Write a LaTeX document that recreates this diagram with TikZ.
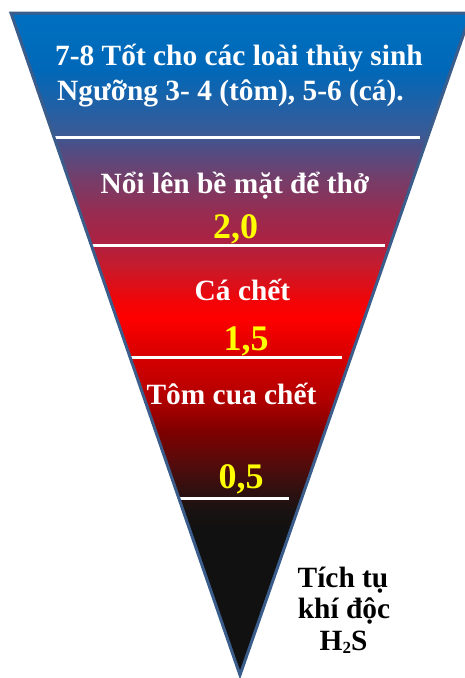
\documentclass[tikz,border=0pt]{standalone}
\usepackage{fontspec}
\setmainfont{Liberation Serif}
\definecolor{edgeblue}{RGB}{59,93,140}
\definecolor{txtyellow}{HTML}{FFFF00}
\definecolor{g0}{HTML}{0070C0}
\definecolor{g1}{HTML}{0068B8}
\definecolor{g2}{HTML}{3C5A96}
\definecolor{g3}{HTML}{4A4F88}
\definecolor{g4}{HTML}{70406D}
\definecolor{g5}{HTML}{952D52}
\definecolor{g6}{HTML}{B02040}
\definecolor{g7}{HTML}{C81A2A}
\definecolor{g8}{HTML}{F00508}
\definecolor{g9}{HTML}{FF0000}
\definecolor{g10}{HTML}{E60000}
\definecolor{g11}{HTML}{B00000}
\definecolor{g12}{HTML}{800000}
\definecolor{g13}{HTML}{5A0A0A}
\definecolor{g14}{HTML}{301010}
\definecolor{g15}{HTML}{1A1212}
\definecolor{g16}{HTML}{111111}
\begin{document}
\begin{tikzpicture}[x=1pt,y=-1pt,
  wtxt/.style={text=white,font=\bfseries\fontsize{29.4}{31}\selectfont,inner sep=0pt,anchor=base},
  ytxt/.style={text=txtyellow,font=\bfseries\fontsize{36}{38}\selectfont,inner sep=0pt,anchor=base},
  btxt/.style={text=black,font=\bfseries\fontsize{29.4}{31}\selectfont,inner sep=0pt,anchor=base},
  levelline/.style={draw=white,line width=3pt},
  funnel/.style={draw=edgeblue,line width=3pt,line join=miter}]
\useasboundingbox (0,0) rectangle (465,678);
\coordinate (tl) at (11,13);
\coordinate (tr) at (471,13);
\coordinate (bt) at (240,675);
\begin{scope}
  \clip (tl) -- (tr) -- (bt) -- cycle;
  \foreach \ya/\yb/\ca/\cb in {12/70/g0/g1, 70/135/g1/g2, 135/145/g2/g3, 145/175/g3/g4, 175/210/g4/g5, 210/245/g5/g6, 245/268/g6/g7, 268/300/g7/g8, 300/318/g8/g9, 318/340/g9/g10, 340/400/g10/g11, 400/430/g11/g12, 430/460/g12/g13, 460/490/g13/g14, 490/510/g14/g15, 510/530/g15/g16, 530/680/g16/g16}
    \fill[top color=\ca,bottom color=\cb,draw=none] (0,\ya-0.4) rectangle (480,\yb+0.4);
\end{scope}
% level lines
\coordinate (l1a) at (52,137); \coordinate (l1b) at (420,137);
\coordinate (l2a) at (88,245); \coordinate (l2b) at (385,245);
\coordinate (l3a) at (125,357); \coordinate (l3b) at (342,357);
\coordinate (l4a) at (176,498); \coordinate (l4b) at (289,498);
\draw[levelline] (l1a) -- (l1b);
\draw[levelline] (l2a) -- (l2b);
\draw[levelline] (l3a) -- (l3b);
\draw[levelline] (l4a) -- (l4b);
% outline
\draw[funnel] (tl) -- (tr) -- (bt) -- cycle;
% texts
\node[wtxt,anchor=base west] (t1) at (55,65) {7-8 Tốt cho các loài thủy sinh};
\node[wtxt,anchor=base west] (t2) at (57,100) {Ngưỡng 3- 4 (tôm), 5-6 (cá).};
\node[wtxt] (t3) at (235,193) {Nổi lên bề mặt để thở};
\node[ytxt] (v1) at (235.5,238) {2,0};
\node[wtxt] (t4) at (242.5,300) {Cá chết};
\node[ytxt] (v2) at (246,350) {1,5};
\node[wtxt] (t5) at (231.5,404) {Tôm cua chết};
\node[ytxt] (v3) at (241,488) {0,5};
\node[btxt] (b1) at (343,587) {Tích tụ};
\node[btxt] (b2) at (344,618) {khí độc};
\node[btxt] (b3) at (343.5,650) {H\raisebox{-0.12em}{\fontsize{17}{17}\selectfont 2}S};
\end{tikzpicture}
\end{document}
